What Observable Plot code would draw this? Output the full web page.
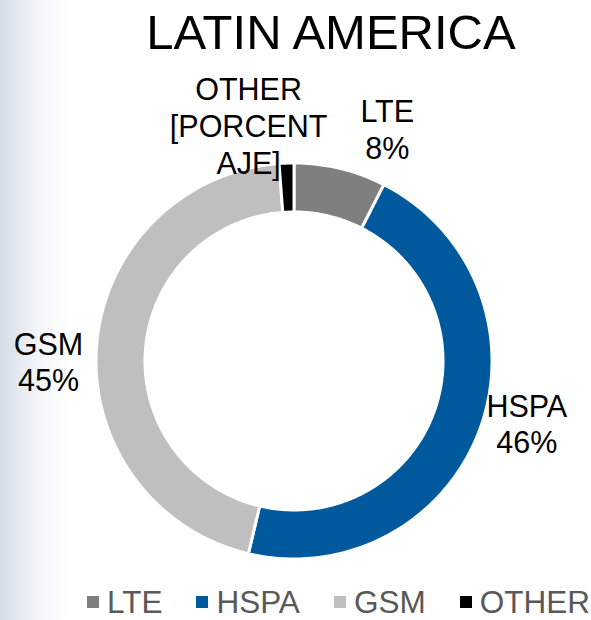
<!DOCTYPE html>
<html>
<head>
<meta charset="utf-8">
<script src="https://cdn.jsdelivr.net/npm/d3@7"></script>
<script src="https://cdn.jsdelivr.net/npm/@observablehq/plot@0.6"></script>
<style>
  html, body { margin: 0; padding: 0; }
  body {
    width: 591px; height: 620px; position: relative; overflow: hidden;
    background: linear-gradient(to right, #d3dbe7 0px, #e6ebf2 20px, #f5f7fa 42px, #ffffff 70px);
    font-family: "Liberation Sans", Arial, sans-serif;
  }
  #chart { position: absolute; left: 0; top: 0; }
  #title {
    position: absolute; left: 0; top: 4px; width: 662px; text-align: center;
    font-size: 49px; line-height: normal; color: #000; white-space: nowrap;
  }
  #legend {
    position: absolute; left: 87px; top: 588px; display: flex; gap: 34px;
    font-size: 31.5px; line-height: 28px; height: 28px; color: #595959; white-space: nowrap;
  }
  #legend .item { display: flex; align-items: center; }
  #legend .sw { width: 12px; height: 12px; margin-right: 8px; }
</style>
</head>
<body>
<div id="chart"></div>
<div id="title">LATIN AMERICA</div>
<div id="legend"></div>
<script>
// ---- data ----
const names = ["LTE", "HSPA", "GSM", "OTHER"];
const shares = [7.5, 46.2, 45.1, 1.2];
const labelTexts = ["LTE\n8%", "HSPA\n46%", "GSM\n45%", "OTHER\n[PORCENT\nAJE]"];
const sliceColors = ["#7f7f7f", "#00599c", "#bfbfbf", "#000000"];

// ---- layout ----
const R_OUT = 198, R_IN = 149;
const labelPlacement = {
  LTE:   { angle: 21.9,  radius: 250 },
  HSPA:  { angle: 105.0, radius: 241 },
  GSM:   { angle: 269.9, radius: 245.5 },
  OTHER: { angle: -10.9, radius: 240 }
};

const total = d3.sum(shares);
let acc = 0;
const slices = names.map((name, i) => {
  const a0 = acc / total * 2 * Math.PI;
  acc += shares[i];
  const a1 = acc / total * 2 * Math.PI;
  return { name, a0, a1 };
});

const ring = slices.flatMap(s => {
  const n = Math.max(2, Math.ceil((s.a1 - s.a0) / (Math.PI / 180)));
  const angles = d3.range(n + 1).map(k => s.a0 + (s.a1 - s.a0) * k / n);
  const pts = [
    ...angles.map(a => ({ name: s.name, x: R_OUT * Math.sin(a), y: R_OUT * Math.cos(a) })),
    ...angles.slice().reverse().map(a => ({ name: s.name, x: R_IN * Math.sin(a), y: R_IN * Math.cos(a) }))
  ];
  pts.push({ ...pts[0] });
  return pts;
});

const labels = names.map((name, i) => {
  const p = labelPlacement[name];
  const a = p.angle * Math.PI / 180;
  return { name, text: labelTexts[i], x: p.radius * Math.sin(a), y: p.radius * Math.cos(a) };
});

const chart = Plot.plot({
  width: 591,
  height: 620,
  margin: 0,
  style: { background: "transparent", overflow: "visible", fontFamily: "Liberation Sans, Arial, sans-serif" },
  x: { domain: [-293.5, 297.5], axis: null },
  y: { domain: [-259.5, 360.5], axis: null },
  color: { domain: names, range: sliceColors },
  marks: [
    Plot.line(ring, { x: "x", y: "y", z: "name", fill: "name", stroke: "white", strokeWidth: 3, curve: "linear" }),
    Plot.text(labels, {
      x: "x", y: "y", text: "text", fill: "#000",
      fontSize: 30.5, lineHeight: 1.2, lineAnchor: "middle", textAnchor: "middle",
      fontFamily: "Liberation Sans, Arial, sans-serif"
    })
  ]
});
document.getElementById("chart").appendChild(chart);

const legend = document.getElementById("legend");
names.forEach((name, i) => {
  const item = document.createElement("div");
  item.className = "item";
  const sw = document.createElement("span");
  sw.className = "sw";
  sw.style.background = sliceColors[i];
  const tx = document.createElement("span");
  tx.textContent = name;
  item.appendChild(sw);
  item.appendChild(tx);
  legend.appendChild(item);
});
</script>
</body>
</html>
